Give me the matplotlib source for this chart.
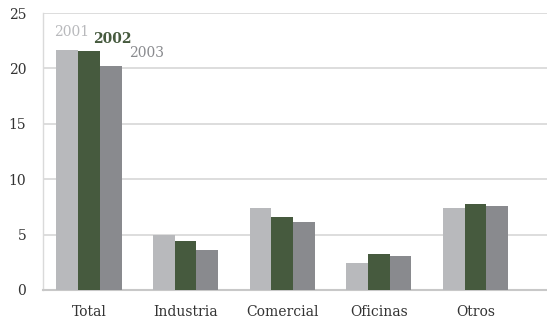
import matplotlib
matplotlib.use("Agg")
import matplotlib.pyplot as plt
import numpy as np

categorias = ["Total", "Industria", "Comercial", "Oficinas", "Otros"]
anios = ["2001", "2002", "2003"]
v2001 = [21.65, 5.0, 7.4, 2.45, 7.4]
v2002 = [21.55, 4.4, 6.6, 3.25, 7.75]
v2003 = [20.2, 3.6, 6.15, 3.05, 7.6]

colores = ["#b8b9bc", "#465a3e", "#898a8e"]

plt.rcParams['font.family'] = ['DejaVu Serif']

fig = plt.figure(figsize=(5.47, 3.22), dpi=100)
ax = fig.add_axes([0.0786, 0.0994, 0.9214, 0.8602])

x = np.arange(len(categorias))
w = 0.225
for i, serie in enumerate([v2001, v2002, v2003]):
    ax.bar(x + (i - 1) * w, serie, w, color=colores[i], zorder=3)

# etiquetas de los años sobre la barra Total
ax.text(-0.176, 22.9, anios[0], color=colores[0], fontsize=10,
        ha="center", va="baseline")
ax.text(0.238, 22.3, anios[1], color=colores[1], fontsize=10,
        fontweight="bold", ha="center", va="baseline")
ax.text(0.60, 21.0, anios[2], color=colores[2], fontsize=10,
        ha="center", va="baseline")

ax.set_xlim(-0.476, 4.74)
ax.set_ylim(0, 25)
ax.set_yticks([0, 5, 10, 15, 20, 25])
ax.set_xticks(x)
ax.set_xticklabels(categorias)
ax.yaxis.grid(True, color="#dadada", linewidth=1.3, zorder=0)
ax.tick_params(axis="both", length=0, colors="#333333", labelsize=10)
ax.tick_params(axis="y", pad=12)
ax.tick_params(axis="x", pad=11)
for s in ["top", "right"]:
    ax.spines[s].set_visible(False)
ax.spines["left"].set_color("#dadada")
ax.spines["bottom"].set_color("#c8c8c8")
ax.spines["left"].set_linewidth(1.0)
ax.spines["bottom"].set_linewidth(1.5)

fig.savefig("out.png", dpi=100)
